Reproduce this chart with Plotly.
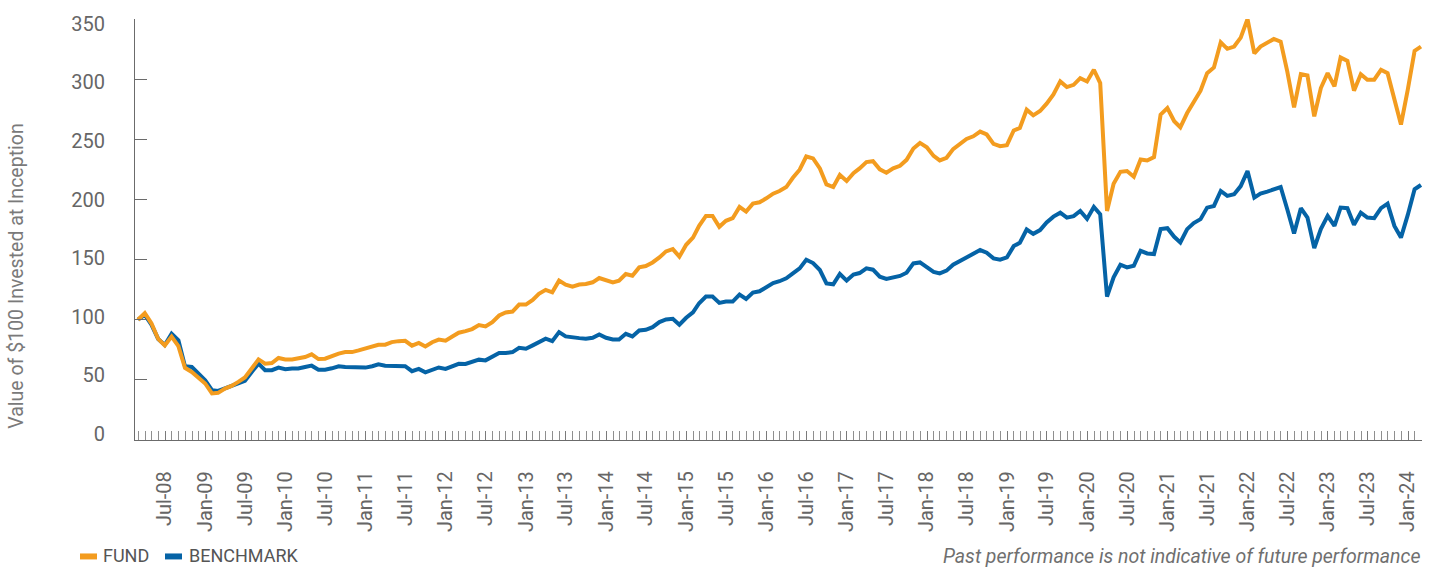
import plotly.graph_objects as go
import pandas as pd

# ---------------- data (value of $100 invested, month-end) ----------------
start_month = "2008-02-29"
fund = [
    100, 105.4, 97, 84, 78.6, 86, 78, 60, 56.6, 52, 47, 38.7, 39.2, 42.8, 45, 48.3, 52, 59.4, 67, 63.5,
    64, 68.2, 67, 67, 67.6, 69, 71.2, 67.3, 67.6, 69.8, 71.8, 73.1, 73.1, 74.5, 75.9, 77.3, 79.2, 79.2, 81.4, 82.2,
    82.5, 78.4, 80.7, 77.7, 81.3, 83.5, 82.6, 86, 89.2, 90.5, 92.2, 95.5, 94.4, 98, 103.5, 106, 106.8, 112.6, 112.6, 116.5,
    121.5, 124.8, 122.8, 132.5, 129.2, 127.5, 129.2, 129.7, 131.1, 134.7, 132.5, 131.1, 132.5, 138, 136.6, 143.5, 144.6, 147.6, 151.8, 156.8,
    158.7, 152.4, 162.3, 168.3, 178, 186.3, 186.3, 177.2, 182.2, 184.4, 193.8, 189.9, 196.5, 197.6, 200.9, 204.8, 207, 210.3, 218, 224.7,
    235.7, 234.1, 225.8, 212.5, 210.3, 220.3, 215.3, 221.9, 225.8, 231, 231.8, 225, 222.2, 225.8, 228, 232.9, 242.3, 247, 243.4, 236.2,
    232.4, 234.6, 241.8, 246.5, 250.3, 252.5, 256.4, 254, 246.2, 244.3, 245.1, 257.3, 259.4, 274.6, 269.9, 273.5, 279.6, 287.3, 298.1, 293.4,
    295.3, 300.8, 298.1, 307.8, 296.7, 190.4, 213.1, 223, 223.6, 218.9, 233.2, 232.4, 235.2, 270.5, 276, 265, 260, 271.8, 280.9, 290.4,
    305, 309.7, 330.6, 325.2, 327.1, 334.5, 350, 321.5, 327.1, 330.5, 333.4, 331.2, 306.4, 276.6, 304.1, 303, 269.1, 292.6, 305, 294,
    318, 315.2, 290.4, 304.1, 299.5, 299.5, 307.8, 305, 281.5, 262.2, 291.2, 323.5, 327.1,
]
benchmark = [
    100, 104, 96, 84, 79, 88.3, 82.8, 61.3, 60.7, 55, 49.7, 41.4, 40.8, 43, 45, 47, 49.1, 56.6, 63.5, 58,
    58, 60.2, 58.8, 59.4, 59.4, 60.7, 61.8, 58.5, 58.5, 59.6, 61.3, 60.7, 60.7, 60.2, 60.2, 61.3, 62.9, 61.8, 61.8, 62,
    61.4, 57.2, 59.1, 56.3, 58.5, 60.3, 59.1, 61.6, 63.3, 63.2, 64.6, 66.8, 66.2, 69.6, 72.3, 72.3, 73.1, 76.7, 75.9, 78.7,
    81.4, 84.2, 82.2, 89.7, 86.1, 85, 84.7, 84.2, 85, 87.8, 85, 83.6, 83.6, 88.3, 86.1, 91.1, 91.6, 93.8, 98, 100.2,
    100.7, 95.8, 101.6, 106.2, 113.7, 119.2, 119.2, 114, 115.1, 115.1, 120.9, 117.3, 122.5, 123.6, 126.9, 130.5, 132, 134.4, 138.5, 142.7,
    149.9, 147.1, 141.3, 130.2, 129.4, 138, 132.5, 137.5, 138.8, 142.7, 141.6, 135.8, 133.9, 135.2, 136.4, 139.1, 146.8, 147.6, 143.5, 139.7,
    138.5, 140.8, 145.7, 149, 151.8, 154.6, 157.9, 155.7, 151, 149.9, 151.8, 161.2, 164, 175, 171.4, 174.5, 180.8, 185.7, 189, 184.9,
    186.1, 190.4, 183.8, 193.8, 187.7, 119.2, 135.2, 145.7, 143.5, 144.9, 157.3, 155.1, 154.6, 175.3, 176.1, 168.9, 164.2, 175.3, 180.3, 183.6,
    193.2, 194.6, 207, 202.9, 204.3, 211.1, 223.6, 201.5, 204.8, 206.5, 208.4, 210.3, 191.8, 171.7, 192.7, 184.9, 159.6, 175.3, 186.3, 178,
    193.2, 192.7, 178.9, 189, 184.9, 184.4, 192.7, 196.5, 178, 168.3, 187.1, 208.4, 212,
]
series_names = ["FUND", "BENCHMARK"]
series_colors = ["#F39C1F", "#0563A6"]
y_ticks = [0, 50, 100, 150, 200, 250, 300, 350]
y_title = "Value of $100 Invested at Inception"
footnote = "Past performance is not indicative of future performance"

dates = pd.date_range(start_month, periods=len(fund), freq=pd.offsets.MonthEnd())

# ---------------- geometry ----------------
W, H = 1434, 570
L, R, T, B = 135, 12, 17, 130
PW, PH = W - L - R, H - T - B

# date scale: Jul-08 label at px 165, Jan-24 label at px 1408
a0, a1 = pd.Timestamp("2008-07-01"), pd.Timestamp("2024-01-01")
px_a0, px_a1 = 165, 1408
k = (px_a1 - px_a0) / (a1 - a0).total_seconds()
x_start = a0 - pd.Timedelta(seconds=(px_a0 - L) / k)
x_end = a0 + pd.Timedelta(seconds=(W - R - px_a0) / k)


def pxx(px):
    return (px - L) / PW


def pxy(py):
    return (H - B - py) / PH


# y labels slightly compressed like the original (0 at 433.5px, 350 at 22px)
lab0, lab350 = 433.5, 22.0
span = 350 * PH / (lab0 - lab350)
r0 = -((H - B) - lab0) * span / PH
r1 = r0 + span

fig = go.Figure()
fig.add_trace(go.Scatter(x=dates, y=benchmark, mode="lines", name=series_names[1],
                         line=dict(color=series_colors[1], width=4), showlegend=False, hoverinfo="skip"))
fig.add_trace(go.Scatter(x=dates, y=fund, mode="lines", name=series_names[0],
                         line=dict(color=series_colors[0], width=4), showlegend=False, hoverinfo="skip"))
fig.add_trace(go.Scatter(x=[], y=[], yaxis="y2", showlegend=False, hoverinfo="skip"))

tick_font = dict(family="Roboto", size=20, color="#666666")

fig.update_layout(
    width=W, height=H,
    margin=dict(l=L, r=R, t=T, b=B, pad=0),
    paper_bgcolor="white", plot_bgcolor="white",
    showlegend=False,
    xaxis=dict(
        type="date", range=[x_start, x_end],
        showline=True, linecolor="#6b6b6b", linewidth=1.3,
        showgrid=False, zeroline=False,
        ticks="inside", ticklen=9, tickcolor="#7a7a7a", tickwidth=1,
        tick0="2008-01-01", dtick="M6", tickformat="%b-%y", tickangle=-90,
        tickfont=tick_font, ticklabelstandoff=22,
        minor=dict(dtick="M1", tick0="2008-01-01", ticks="inside", ticklen=9,
                   tickcolor="#8f8f8f", tickwidth=1, showgrid=False),
    ),
    yaxis=dict(
        range=[0, 350], tickvals=y_ticks, showticklabels=False,
        showline=True, linecolor="#6b6b6b", linewidth=1.3,
        ticks="inside", ticklen=12, tickcolor="#6b6b6b", tickwidth=1.3,
        showgrid=False, zeroline=False,
    ),
    yaxis2=dict(
        overlaying="y", anchor="x", side="left", range=[r0, r1],
        tickvals=y_ticks, ticks="", showline=False, showgrid=False, zeroline=False,
        tickfont=dict(family="Roboto", size=20, color="#666666"), ticklabelstandoff=29,
    ),
)

# y-axis title
fig.add_annotation(xref="paper", yref="paper", x=pxx(17), y=pxy(276), text=y_title,
                   textangle=-90, showarrow=False, xanchor="center", yanchor="middle",
                   font=dict(family="Roboto", size=19.5, color="#7a7a7a"))

# legend (manual)
legend_items = [(80, 97, 101), (165, 182, 187)]
for (x_a, x_b, x_t), name, col in zip(legend_items, series_names, series_colors):
    fig.add_shape(type="rect", xref="paper", yref="paper",
                  x0=pxx(x_a), x1=pxx(x_b), y0=pxy(554), y1=pxy(560),
                  fillcolor=col, line=dict(width=0))
    fig.add_annotation(xref="paper", yref="paper", x=pxx(x_t), y=pxy(556.5), text=name,
                       showarrow=False, xanchor="left", yanchor="middle",
                       font=dict(family="Roboto", size=18, color="#555555"))

# footnote
fig.add_annotation(xref="paper", yref="paper", x=pxx(941), y=pxy(557), text=footnote,
                   showarrow=False, xanchor="left", yanchor="middle",
                   font=dict(family="Roboto", size=19.5, color="#6f6f6f", style="italic"))

fig.write_html("out.html", config={"displayModeBar": False},
               post_script="document.body.style.margin='0';")
